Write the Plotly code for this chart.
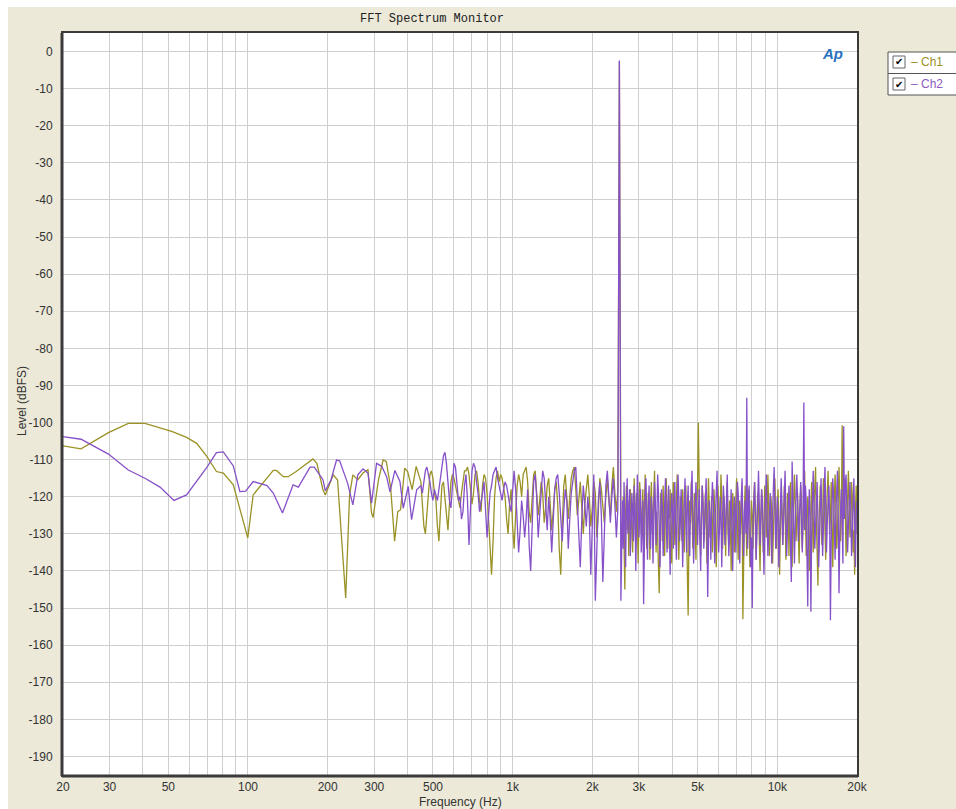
import numpy as np
import plotly.graph_objects as go

# ---------------- data ----------------
# low-frequency region, read vertex by vertex
ch1_low_freq = [20, 23.4, 29.7, 35.3, 40.8, 51.5, 58.6, 64, 70, 76, 80.7, 88, 99.8, 104.6,
                124.6, 128, 136, 142, 152, 171.6, 176, 182, 192, 196, 210, 218, 234, 242,
                249, 260, 272, 284, 293, 297, 311, 324, 333, 346, 358, 368, 377, 391, 401,
                417, 432]
ch1_low_level = [-106.3, -107.1, -102.7, -100.2, -100.2, -102.4, -104, -105.6, -109.2, -113.2,
                 -113.6, -116.8, -131.1, -119.5, -112.9, -112.9, -114.6, -114.6, -113.2, -110.5,
                 -109.8, -111, -118.1, -119.5, -114.1, -115.5, -147.3, -119.5, -114.1, -115.4,
                 -113.6, -112.7, -124.4, -125.6, -115.5, -110.1, -110.5, -117.5, -132, -124,
                 -123.5, -112.3, -113.2, -118.1, -111.8]

ch2_low_freq = [20, 23.4, 29.7, 35.3, 40.8, 46.5, 52.5, 58.6, 70, 76, 80.7, 88, 93.2, 98,
                104.6, 111, 118, 124.6, 135, 148, 155, 171.6, 178, 192, 196, 206, 216, 222,
                238, 249, 260, 272, 284, 293, 306, 320, 334, 344, 359, 375, 386, 403, 415, 434]
ch2_low_level = [-103.8, -104.5, -108.5, -112.8, -115, -117.4, -121, -119.5, -112, -108.1,
                 -107.9, -111.7, -118.6, -118.5, -115.9, -116.5, -117, -119, -124.4, -116.8,
                 -117.4, -112, -112, -115.4, -118.4, -115.4, -110.1, -110.3, -116.4, -122.2,
                 -114.1, -112.5, -113.6, -121.7, -111, -111.8, -114.6, -118.7, -112.9, -115.9,
                 -123.1, -117.2, -126.2, -118.1]

# mid region (450 Hz .. ~2.56 kHz), log-spaced display bins
mid_start_hz, mid_stop_hz, mid_bins = 450, 2564, 134
ch1_mid_level = [
    -116, -122, -128, -130, -124, -118, -114, -113, -115, -119,
    -121, -128, -132, -124, -117, -116, -120, -126, -129, -122,
    -116, -114, -115, -117, -119, -121, -123, -119, -115, -113,
    -113, -112, -114, -118, -122, -119, -114, -113, -116, -121,
    -124, -117, -114, -115, -119, -126, -134, -141, -132, -120,
    -115, -113, -116, -114, -115, -118, -120, -126, -130, -122,
    -118, -128, -134, -125, -117, -114, -116, -120, -114, -113,
    -112, -116, -124, -127, -119, -114, -113, -118, -125, -121,
    -116, -119, -127, -123, -117, -115, -121, -129, -124, -118,
    -116, -122, -134, -141, -128, -117, -114, -119, -126, -120,
    -115, -113, -112, -118, -125, -121, -116, -123, -130, -122,
    -117, -114, -120, -128, -123, -116, -119, -131, -124, -115,
    -118, -122, -127, -120, -115, -121, -125, -117, -112, -119,
    -124, -118, -2.6, -130]
ch2_mid_level = [
    -117, -119, -116, -113, -112, -114, -116, -119, -121, -118,
    -120, -121, -118, -115, -112, -109, -108, -111, -116, -121,
    -123, -116, -111, -112, -118, -121, -120, -126, -124, -117,
    -114, -121, -133, -122, -113, -111, -112, -116, -119, -124,
    -122, -119, -116, -124, -131, -125, -119, -117, -114, -113,
    -112, -115, -117, -119, -121, -118, -116, -117, -120, -122,
    -124, -117, -113, -118, -127, -135, -129, -121, -125, -131,
    -126, -118, -133, -140, -128, -116, -114, -120, -131, -124,
    -117, -113, -115, -122, -129, -120, -126, -135, -127, -118,
    -115, -114, -119, -127, -132, -124, -118, -121, -134, -126,
    -119, -116, -113, -112, -121, -131, -139, -126, -117, -122,
    -128, -120, -125, -141, -124, -114, -148, -132, -121, -116,
    -125, -143, -128, -117, -113, -119, -127, -120, -115, -122,
    -131, -123, -2.4, -148]

# high region (2.6 kHz .. 20 kHz), finer display bins
high_start_hz, high_stop_hz, high_bins = 2600, 20000, 301
ch1_high_level = [
    -127, -120, -133, -145, -124, -117, -129, -121, -136, -126,
    -118, -124, -131, -135, -122, -115, -127, -133, -119, -125,
    -138, -123, -116, -121, -130, -126, -118, -132, -124, -114,
    -122, -134, -128, -119, -125, -137, -121, -116, -130, -127,
    -120, -113, -126, -135, -124, -131, -139, -146, -128, -119,
    -123, -132, -117, -125, -136, -122, -115, -128, -134, -121,
    -126, -118, -130, -138, -124, -116, -121, -133, -127, -119,
    -114, -125, -137, -129, -120, -124, -132, -118, -126, -135,
    -123, -117, -129, -140, -152, -131, -121, -127, -116, -124,
    -134, -126, -119, -128, -137, -122, -118, -100, -123, -130,
    -136, -125, -117, -121, -132, -128, -119, -126, -138, -124,
    -115, -123, -131, -127, -120, -135, -129, -118, -124, -133,
    -139, -126, -117, -122, -130, -125, -114, -121, -134, -128,
    -120, -127, -136, -123, -116, -129, -133, -121, -126, -140,
    -131, -119, -124, -135, -127, -118, -115, -128, -137, -125,
    -121, -130, -126, -119, -153, -134, -123, -117, -129, -136,
    -124, -118, -127, -139, -130, -121, -125, -134, -120, -116,
    -128, -137, -126, -119, -123, -132, -140, -127, -118, -124,
    -135, -129, -117, -121, -131, -126, -114, -122, -136, -128,
    -120, -125, -138, -130, -119, -115, -127, -134, -123, -118,
    -129, -141, -128, -120, -124, -133, -126, -117, -121, -137,
    -130, -119, -125, -136, -122, -116, -128, -139, -127, -120,
    -114, -123, -132, -126, -119, -130, -138, -124, -117, -121,
    -134, -128, -118, -113, -125, -136, -129, -120, -124, -140,
    -131, -122, -116, -127, -135, -123, -119, -112, -126, -138,
    -144, -129, -121, -117, -125, -133, -127, -115, -120, -131,
    -137, -124, -118, -113, -122, -130, -126, -116, -128, -139,
    -127, -119, -114, -123, -134, -129, -117, -112, -121, -132,
    -125, -100.7, -126, -118, -115, -124, -136, -128, -119, -113,
    -122, -131, -127, -116, -120, -135, -129, -141, -124, -117,
    -130]
ch2_high_level = [
    -121, -134, -116, -128, -139, -123, -115, -130, -125, -118,
    -136, -127, -119, -124, -132, -117, -122, -140, -126, -114,
    -120, -131, -125, -118, -135, -128, -121, -149, -131, -119,
    -115, -126, -137, -123, -117, -129, -134, -120, -124, -138,
    -127, -116, -121, -133, -126, -114, -119, -131, -139, -125,
    -118, -123, -136, -128, -120, -115, -127, -135, -122, -117,
    -130, -141, -126, -119, -124, -134, -121, -116, -129, -137,
    -123, -114, -120, -132, -127, -118, -125, -139, -128, -121,
    -115, -126, -135, -122, -117, -130, -136, -124, -119, -113,
    -127, -138, -129, -120, -116, -124, -133, -126, -118, -131,
    -140, -125, -117, -122, -134, -128, -119, -115, -127, -147,
    -132, -121, -126, -137, -123, -116, -120, -131, -138, -124,
    -118, -113, -127, -135, -129, -120, -125, -139, -126, -117,
    -121, -133, -128, -119, -114, -126, -136, -130, -122, -118,
    -129, -140, -127, -120, -124, -135, -123, -116, -119, -132,
    -138, -125, -118, -115, -128, -136, -124, -121, -130, -93.3,
    -134, -122, -117, -126, -139, -131, -150, -127, -120, -116,
    -124, -137, -129, -119, -113, -122, -133, -126, -118, -121,
    -135, -141, -128, -117, -114, -125, -136, -130, -121, -119,
    -127, -138, -124, -116, -112, -123, -134, -128, -120, -126,
    -139, -131, -119, -115, -122, -133, -127, -118, -113, -125,
    -136, -129, -121, -117, -124, -137, -143, -110.5, -122, -130,
    -138, -126, -118, -114, -121, -132, -127, -119, -116, -128,
    -135, -124, -94.6, -129, -117, -121, -133, -149.6, -126, -118,
    -125, -151, -130, -119, -113, -122, -134, -128, -120, -116,
    -127, -139, -131, -121, -115, -124, -136, -129, -118, -112,
    -123, -135, -127, -120, -117, -126, -153.3, -132, -122, -115,
    -119, -128, -137, -124, -116, -113, -125, -146, -130, -121,
    -118, -127, -138, -101, -126, -117, -114, -123, -135, -128,
    -120, -116, -124, -136, -130, -119, -115, -127, -139, -125,
    -121]

x_tick_vals = [20, 30, 40, 50, 60, 70, 80, 90, 100, 200, 300, 400, 500, 600, 700, 800, 900,
               1000, 2000, 3000, 4000, 5000, 6000, 7000, 8000, 9000, 10000, 20000]
x_tick_text = ["20", "30", "", "50", "", "", "", "", "100", "200", "300", "", "500", "", "", "",
               "", "1k", "2k", "3k", "", "5k", "", "", "", "", "10k", "20k"]
y_tick_vals = list(range(0, -200, -10))
y_tick_text = [str(v) for v in y_tick_vals]

# ---------------- build series ----------------
mid_freq = np.geomspace(mid_start_hz, mid_stop_hz, mid_bins)
high_freq = np.geomspace(high_start_hz, high_stop_hz, high_bins)
ch1_x = list(ch1_low_freq) + list(mid_freq) + list(high_freq)
ch1_y = list(ch1_low_level) + list(ch1_mid_level) + list(ch1_high_level)
ch2_x = list(ch2_low_freq) + list(mid_freq) + list(high_freq)
ch2_y = list(ch2_low_level) + list(ch2_mid_level) + list(ch2_high_level)

CH1_COLOR = "#9a9226"
CH2_COLOR = "#8650c8"
BEIGE = "#ECE9D8"
FONT = "Liberation Sans, Arial, sans-serif"

fig = go.Figure()
fig.add_trace(go.Scatter(x=ch1_x, y=ch1_y, mode="lines", name="Ch1",
                         line=dict(color=CH1_COLOR, width=1.3)))
fig.add_trace(go.Scatter(x=ch2_x, y=ch2_y, mode="lines", name="Ch2",
                         line=dict(color=CH2_COLOR, width=1.3)))

W, H = 956, 809
L, R, T, B = 63, 857, 33, 775  # plot area in screen pixels


def px(xs):
    return (xs - L) / (R - L)


def py(ys):
    return (B - ys) / (B - T)


shapes = [
    # white window strips at top and left
    dict(type="rect", xref="paper", yref="paper", x0=px(0), x1=px(W), y0=py(7), y1=py(0),
         fillcolor="white", line=dict(width=0), layer="below"),
    dict(type="rect", xref="paper", yref="paper", x0=px(0), x1=px(8), y0=py(H), y1=py(0),
         fillcolor="white", line=dict(width=0), layer="below"),
    # legend box
    dict(type="rect", xref="paper", yref="paper", x0=px(888), x1=px(962), y0=py(95), y1=py(52),
         fillcolor="white", line=dict(color="#555555", width=1)),
    dict(type="line", xref="paper", yref="paper", x0=px(888), x1=px(962), y0=py(73.5), y1=py(73.5),
         line=dict(color="#555555", width=1)),
    dict(type="rect", xref="paper", yref="paper", x0=px(893), x1=px(905), y0=py(68), y1=py(56),
         fillcolor="white", line=dict(color="#666666", width=1)),
    dict(type="rect", xref="paper", yref="paper", x0=px(893), x1=px(905), y0=py(90), y1=py(78),
         fillcolor="white", line=dict(color="#666666", width=1)),
    # frame (thicker left/bottom edges)
    dict(type="line", xref="paper", yref="paper", x0=px(L - 1), x1=px(L - 1), y0=py(B + 1), y1=py(T),
         line=dict(color="#3a3a3a", width=3)),
    dict(type="line", xref="paper", yref="paper", x0=px(L - 1), x1=px(R + 1), y0=py(B + 1), y1=py(B + 1),
         line=dict(color="#3a3a3a", width=3)),
]

annotations = [
    dict(text="✔", xref="paper", yref="paper", x=px(899), y=py(62), showarrow=False,
         font=dict(size=10, color="black", family="DejaVu Sans"), xanchor="center", yanchor="middle"),
    dict(text="✔", xref="paper", yref="paper", x=px(899), y=py(84), showarrow=False,
         font=dict(size=10, color="black", family="DejaVu Sans"), xanchor="center", yanchor="middle"),
    dict(text="– Ch1", xref="paper", yref="paper", x=px(909), y=py(62), showarrow=False,
         font=dict(size=12, color=CH1_COLOR, family=FONT), xanchor="left", yanchor="middle"),
    dict(text="– Ch2", xref="paper", yref="paper", x=px(909), y=py(84), showarrow=False,
         font=dict(size=12, color="#8c5cc0", family=FONT), xanchor="left", yanchor="middle"),
    dict(text="<b><i>Ap</i></b>", xref="paper", yref="paper", x=px(832), y=py(53), showarrow=False,
         font=dict(size=15, color="#2a72c0", family=FONT), xanchor="center", yanchor="middle"),
    # axis titles
    dict(text="Frequency (Hz)", xref="paper", yref="paper", x=px(460), y=py(802), showarrow=False,
         font=dict(size=12, color="#333333", family=FONT), xanchor="center", yanchor="middle"),
    dict(text="Level (dBFS)", xref="paper", yref="paper", x=px(22), y=py(401), showarrow=False,
         textangle=-90, font=dict(size=12, color="#333333", family=FONT),
         xanchor="center", yanchor="middle"),
]

fig.update_layout(
    width=W, height=H,
    margin=dict(l=L, r=W - R, t=T, b=H - B, pad=0, autoexpand=False),
    paper_bgcolor=BEIGE,
    plot_bgcolor="white",
    showlegend=False,
    title=dict(text="FFT Spectrum Monitor", x=432 / W, xanchor="center",
               y=1 - 18 / H, yanchor="middle",
               font=dict(family="Liberation Mono, DejaVu Sans Mono, monospace",
                         size=12, color="#222222")),
    font=dict(family=FONT, size=12, color="#333333"),
    shapes=shapes,
    annotations=annotations,
)

fig.update_xaxes(
    type="log", range=[np.log10(20), np.log10(20000)],
    tickmode="array", tickvals=x_tick_vals, ticktext=x_tick_text,
    showgrid=True, gridcolor="#cfcfcf", gridwidth=1,
    showline=True, mirror=True, linecolor="#3a3a3a", linewidth=2,
    ticks="", ticklabelstandoff=0, tickfont=dict(size=12, color="#333333"),
    zeroline=False, automargin=False,
)
fig.update_yaxes(
    range=[-195, 5],
    tickmode="array", tickvals=y_tick_vals, ticktext=y_tick_text,
    showgrid=True, gridcolor="#cfcfcf", gridwidth=1,
    showline=True, mirror=True, linecolor="#3a3a3a", linewidth=2,
    ticks="", ticklabelstandoff=6, tickfont=dict(size=12, color="#333333"),
    zeroline=False, automargin=False,
)

fig.write_html(
    "out.html",
    config={"displayModeBar": False},
    post_script="document.body.style.margin='0';"
                "document.documentElement.style.overflow='hidden';",
)
